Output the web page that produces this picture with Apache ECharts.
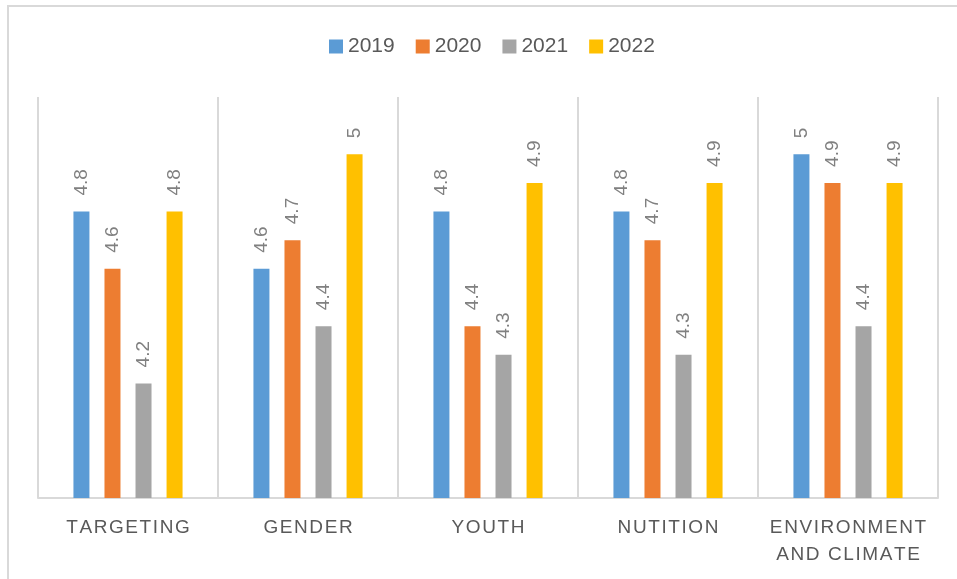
<!DOCTYPE html>
<html>
<head>
<meta charset="utf-8">
<script src="https://cdn.jsdelivr.net/npm/echarts@6/dist/echarts.min.js"></script>
<style>
html,body{margin:0;padding:0;background:#fff;}
#chart{width:957px;height:579px;}
</style>
</head>
<body>
<div id="chart"></div>
<script>
var categories = ['TARGETING', 'GENDER', 'YOUTH', 'NUTITION', 'ENVIRONMENT\nAND CLIMATE'];
var seriesNames = ['2019', '2020', '2021', '2022'];
var values2019 = [4.8, 4.6, 4.8, 4.8, 5];
var values2020 = [4.6, 4.7, 4.4, 4.7, 4.9];
var values2021 = [4.2, 4.4, 4.3, 4.3, 4.4];
var values2022 = [4.8, 5, 4.9, 4.9, 4.9];
var colors = ['#5B9BD5', '#ED7D31', '#A5A5A5', '#FFC000'];

var allValues = [values2019, values2020, values2021, values2022];
var FONT = '"Liberation Sans", Arial, sans-serif';

function spaced(s) {
  return s.split('\n').map(function (line) {
    return line.split('').join('\u200A');
  }).join('\n');
}

var chart = echarts.init(document.getElementById('chart'));
var series = seriesNames.map(function (name, i) {
  return {
    name: name,
    type: 'bar',
    data: allValues[i],
    barWidth: 16,
    barGap: '94%',
    itemStyle: { color: colors[i] },
    label: {
      show: true,
      position: 'top',
      rotate: 90,
      align: 'left',
      verticalAlign: 'middle',
      distance: 16,
      color: '#808080',
      fontSize: 19,
      fontFamily: FONT
    }
  };
});

chart.setOption({
  animation: false,
  backgroundColor: '#ffffff',
  color: colors,
  graphic: [{
    type: 'rect',
    shape: { x: 8, y: 6, width: 1200, height: 1000 },
    style: { fill: 'none', stroke: '#d9d9d9', lineWidth: 2 },
    silent: true
  }],
  legend: {
    data: seriesNames,
    top: 31,
    left: 324,
    icon: 'rect',
    itemWidth: 14,
    itemHeight: 14,
    itemGap: 21,
    textStyle: { color: '#595959', fontSize: 21, fontFamily: FONT }
  },
  grid: { left: 38, right: 19, top: 97, bottom: 81, containLabel: false },
  xAxis: {
    type: 'category',
    data: categories,
    axisLine: { show: true, lineStyle: { color: '#d9d9d9', width: 2 } },
    axisTick: { show: false },
    splitLine: { show: true, lineStyle: { color: '#d9d9d9', width: 2 } },
    axisLabel: {
      interval: 0,
      margin: 16,
      color: '#595959',
      fontSize: 19,
      lineHeight: 27,
      fontFamily: FONT,
      formatter: function (v) { return spaced(v); }
    }
  },
  yAxis: {
    type: 'value',
    min: 3.8,
    max: 5.2,
    show: false,
    splitLine: { show: false }
  },
  series: series
});
</script>
</body>
</html>
